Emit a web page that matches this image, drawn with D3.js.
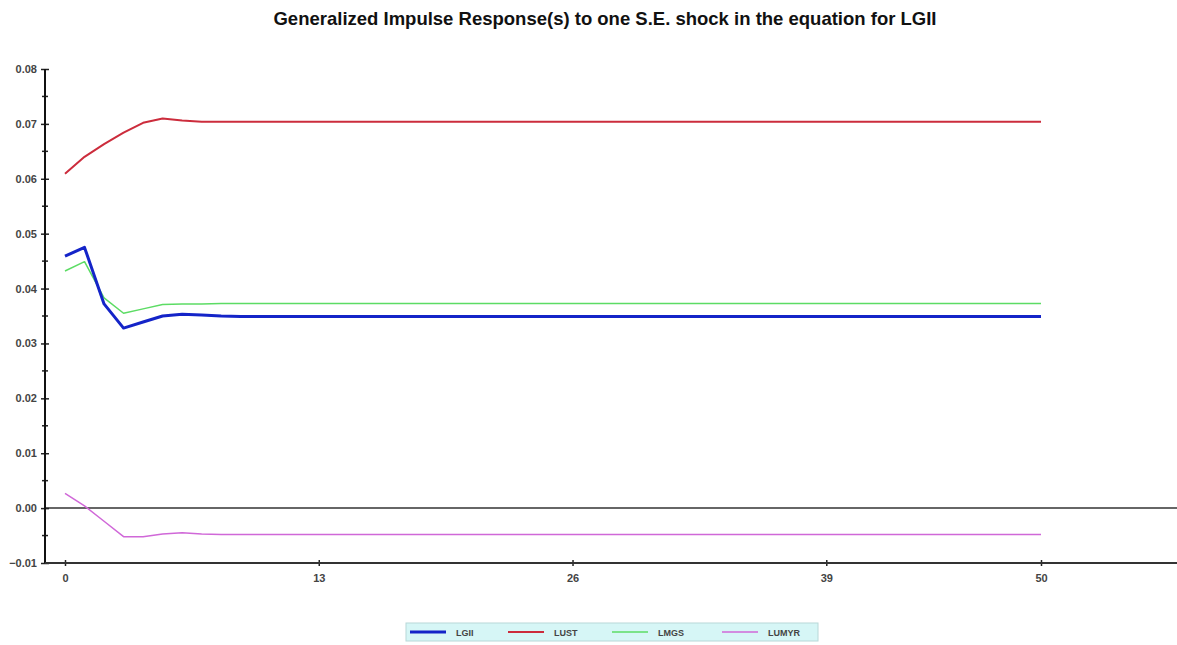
<!DOCTYPE html>
<html>
<head>
<meta charset="utf-8">
<script src="https://cdn.jsdelivr.net/npm/d3@7"></script>
<style>
  body { margin: 0; background: #fff; }
  text { font-family: "Liberation Sans", Arial, sans-serif; }
</style>
</head>
<body>
<svg id="chart"></svg>
<script>
// Horizon (periods) and response values
var periods = d3.range(0, 51);
var seriesNames = ['LGII', 'LUST', 'LMGS', 'LUMYR'];
var seriesColors = ['#1424c8', '#cc2c3c', '#5cdc64', '#d068d8'];
var seriesWidths = [3, 2, 1.5, 1.5];

// first periods read by eye; the remaining periods are flat at the last value
var lgiiHead  = [0.0459, 0.0475, 0.0372, 0.0328, 0.0339, 0.0350, 0.0353, 0.0352, 0.0350, 0.0349];
var lgiiTail  = 0.0349;
var lustHead  = [0.0609, 0.0640, 0.0663, 0.0684, 0.0702, 0.0710, 0.0706, 0.0704];
var lustTail  = 0.0704;
var lmgsHead  = [0.0432, 0.0449, 0.0383, 0.0355, 0.0363, 0.0371, 0.0372, 0.0372];
var lmgsTail  = 0.0373;
var lumyrHead = [0.0027, 0.0004, -0.0024, -0.0052, -0.0052, -0.0047, -0.0045, -0.0047];
var lumyrTail = -0.0048;

var yTicks = [-0.01, 0.00, 0.01, 0.02, 0.03, 0.04, 0.05, 0.06, 0.07, 0.08];
var xTicks = [0, 13, 26, 39, 50];

function fill(head, tail) {
    return periods.map(function (p) { return p < head.length ? head[p] : tail; });
}
var seriesValues = [fill(lgiiHead, lgiiTail), fill(lustHead, lustTail),
                    fill(lmgsHead, lmgsTail), fill(lumyrHead, lumyrTail)];

var width = 1177,
    height = 645;

var svg = d3.select('#chart')
    .attr('width', width)
    .attr('height', height);

var x = d3.scaleLinear().domain([0, 50]).range([65, 1041]);
var y = d3.scaleLinear().domain([-0.01, 0.08]).range([563, 69]);

// Title
svg.append('text')
    .attr('x', 605)
    .attr('y', 25)
    .attr('text-anchor', 'middle')
    .style('font-size', '18.5px')
    .style('font-weight', 'bold')
    .attr('fill', '#111')
    .text('Generalized Impulse Response(s) to one S.E. shock in the equation for LGII');

// Zero line across the full width
svg.append('line')
    .attr('x1', 45).attr('x2', width)
    .attr('y1', y(0)).attr('y2', y(0))
    .attr('stroke', '#333').attr('stroke-width', 1.5);

// Y axis
var yAxis = svg.append('g')
    .attr('transform', 'translate(45,0)')
    .call(d3.axisLeft(y).tickValues(yTicks).tickFormat(d3.format('.2f')).tickSize(4));
yAxis.select('.domain').remove();
yAxis.selectAll('.tick line').attr('x1', -4).attr('x2', 4).attr('stroke', '#222').attr('stroke-width', 1.5);
yAxis.selectAll('.tick text')
    .attr('x', -8)
    .style('font-size', '11px')
    .style('font-weight', 'bold')
    .attr('fill', '#444');
yAxis.selectAll('.minor')
    .data(d3.range(-0.005, 0.08, 0.01))
    .enter().append('line')
    .attr('x1', -3).attr('x2', 3)
    .attr('y1', function (d) { return y(d); })
    .attr('y2', function (d) { return y(d); })
    .attr('stroke', '#222').attr('stroke-width', 1.5);
yAxis.append('line')
    .attr('x1', 0).attr('x2', 0)
    .attr('y1', y(0.08)).attr('y2', y(-0.01))
    .attr('stroke', '#111').attr('stroke-width', 2);

// X axis
var xAxis = svg.append('g')
    .attr('transform', 'translate(0,' + y(-0.01) + ')')
    .call(d3.axisBottom(x).tickValues(xTicks).tickSize(3));
xAxis.select('.domain').remove();
xAxis.selectAll('.tick line').attr('y1', -3).attr('y2', 3).attr('stroke', '#222').attr('stroke-width', 1.5);
xAxis.selectAll('.tick text')
    .attr('y', 11)
    .style('font-size', '11px')
    .style('font-weight', 'bold')
    .attr('fill', '#444');
xAxis.append('line')
    .attr('x1', 45).attr('x2', width)
    .attr('y1', 0).attr('y2', 0)
    .attr('stroke', '#333').attr('stroke-width', 2);

// Lines
var line = d3.line()
    .x(function (d, i) { return x(periods[i]); })
    .y(function (d) { return y(d); });

var order = [3, 2, 1, 0];
order.forEach(function (k) {
    svg.append('path')
        .datum(seriesValues[k])
        .attr('d', line)
        .attr('fill', 'none')
        .attr('stroke', seriesColors[k])
        .attr('stroke-width', seriesWidths[k])
        .attr('stroke-linejoin', 'round');
});

// Legend
var legend = svg.append('g');
legend.append('rect')
    .attr('x', 406).attr('y', 623)
    .attr('width', 412).attr('height', 18)
    .attr('fill', '#d6f6f6')
    .attr('stroke', '#b8d8d8');
var legendX = [410, 508, 612, 722];
seriesNames.forEach(function (name, i) {
    legend.append('line')
        .attr('x1', legendX[i]).attr('x2', legendX[i] + 36)
        .attr('y1', 632).attr('y2', 632)
        .attr('stroke', seriesColors[i])
        .attr('stroke-width', seriesWidths[i]);
    legend.append('text')
        .attr('x', legendX[i] + 46)
        .attr('y', 635.5)
        .style('font-size', '9px')
        .style('font-weight', 'bold')
        .attr('fill', '#444')
        .text(name);
});
</script>
</body>
</html>
